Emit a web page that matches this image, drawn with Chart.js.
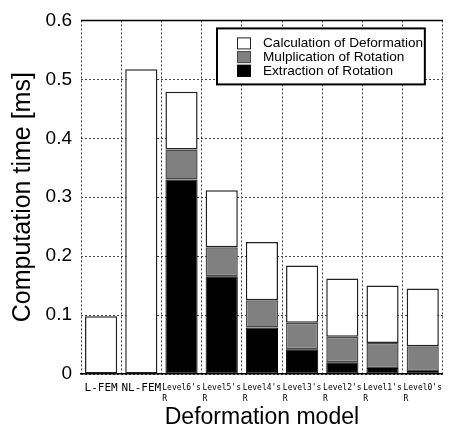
<!DOCTYPE html>
<html>
<head>
<meta charset="utf-8">
<script src="https://cdn.jsdelivr.net/npm/chart.js@4.4.1/dist/chart.umd.min.js"></script>
<style>
html,body{margin:0;padding:0;background:#fff;}
#wrap{width:450px;height:429px;position:relative;}
</style>
</head>
<body>
<div id="wrap"><canvas id="c" width="450" height="429"></canvas></div>
<script>
const categories = [
  ["L-FEM"], ["NL-FEM"],
  ["Level6's", "R       "], ["Level5's", "R       "], ["Level4's", "R       "],
  ["Level3's", "R       "], ["Level2's", "R       "], ["Level1's", "R       "], ["Level0's", "R       "]
];
const extraction = [null, null, 0.330, 0.166, 0.079, 0.042, 0.020, 0.010, 0.005];
const multiplication = [null, null, 0.051, 0.049, 0.046, 0.045, 0.043, 0.0425, 0.042];
const calculation = [0.098, 0.517, 0.098, 0.097, 0.099, 0.097, 0.099, 0.0975, 0.098];
const seriesLabels = ["Extraction of Rotation", "Mulplication of Rotation", "Calculation of Deformation"];
const yTicks = [0, 0.1, 0.2, 0.3, 0.4, 0.5, 0.6];

const legendBox = {
  id: 'legendBox',
  afterDraw(chart) {
    const ctx = chart.ctx, a = chart.chartArea;
    const x0 = a.left + 136, y0 = a.top + 8, x1 = a.right - 18, y1 = a.top + 64;
    ctx.save();
    ctx.fillStyle = '#fff';
    ctx.fillRect(x0, y0, x1 - x0, y1 - y0);
    ctx.strokeStyle = '#000';
    ctx.lineWidth = 2;
    ctx.strokeRect(x0, y0, x1 - x0, y1 - y0);
    const ds = chart.data.datasets.slice().reverse();
    ctx.font = '13.6px "Liberation Sans", Arial, sans-serif';
    ctx.textBaseline = 'middle';
    ds.forEach((d, i) => {
      const cy = y0 + 15 + i * 13.7;
      ctx.fillStyle = d.backgroundColor;
      ctx.fillRect(x0 + 20, cy - 6, 14, 12);
      ctx.strokeStyle = d.borderColor;
      ctx.lineWidth = 1;
      ctx.strokeRect(x0 + 20.5, cy - 5.5, 13, 11);
      ctx.fillStyle = '#000';
      ctx.fillText(d.label, x0 + 46, cy);
    });
    ctx.restore();
  }
};
const topLine = {
  id: 'topLine',
  afterDatasetsDraw(chart) {
    const ctx = chart.ctx, a = chart.chartArea;
    ctx.save();
    ctx.strokeStyle = '#000';
    ctx.lineWidth = 1.5;
    ctx.beginPath();
    ctx.moveTo(a.left, a.top);
    ctx.lineTo(a.right, a.top);
    ctx.stroke();
    ctx.restore();
  }
};

new Chart(document.getElementById('c'), {
  type: 'bar',
  data: {
    labels: categories,
    datasets: [
      { label: seriesLabels[0], data: extraction, backgroundColor: '#000000', borderColor: '#000000', borderWidth: 1, borderSkipped: false },
      { label: seriesLabels[1], data: multiplication, backgroundColor: '#808080', borderColor: '#4a4a4a', borderWidth: 1.5, borderSkipped: false },
      { label: seriesLabels[2], data: calculation, backgroundColor: '#ffffff', borderColor: '#222222', borderWidth: 1.5, borderSkipped: false }
    ]
  },
  options: {
    responsive: false,
    animation: false,
    layout: { padding: { top: 20, right: 0, left: 0, bottom: 0 } },
    datasets: { bar: { categoryPercentage: 1.0, barPercentage: 0.8 } },
    plugins: { legend: { display: false }, tooltip: { enabled: false } },
    scales: {
      x: {
        stacked: true,
        afterFit(s) { s.height = 55; },
        grid: { offset: true, color: '#444', lineWidth: 1, drawTicks: false },
        border: { display: true, color: '#000', width: 1.5, dash: [2, 2] },
        ticks: {
          padding: 8,
          maxRotation: 0, minRotation: 0, autoSkip: false,
          color: '#000',
          font: (ctx) => ctx.index < 2
            ? { family: '"DejaVu Sans Mono", monospace', size: 11, lineHeight: '13px' }
            : { family: '"DejaVu Sans Mono", monospace', size: 8, lineHeight: '11px' }
        },
        title: {
          display: true,
          text: 'Deformation model',
          color: '#000',
          font: { family: '"Liberation Sans", Arial, sans-serif', size: 23, lineHeight: 0.96 },
          padding: { top: 0, bottom: 0 }
        }
      },
      y: {
        stacked: true,
        min: 0, max: 0.6,
        afterFit(s) { s.width = 81; },
        afterBuildTicks(s) { s.ticks = yTicks.map(v => ({ value: v })); },
        grid: { color: '#444', lineWidth: 1, drawTicks: false },
        border: { display: false, dash: [2, 2] },
        ticks: {
          padding: 9,
          color: '#000',
          font: { family: '"Liberation Sans", Arial, sans-serif', size: 19 },
          callback: (v) => v === 0 ? '0' : Number(v).toFixed(1)
        },
        title: {
          display: true,
          text: 'Computation time [ms]',
          color: '#000',
          font: { family: '"Liberation Sans", Arial, sans-serif', size: 25, lineHeight: 1.2 },
          padding: { top: 8, bottom: 0 }
        }
      }
    }
  },
  plugins: [legendBox, topLine]
});
</script>
</body>
</html>
